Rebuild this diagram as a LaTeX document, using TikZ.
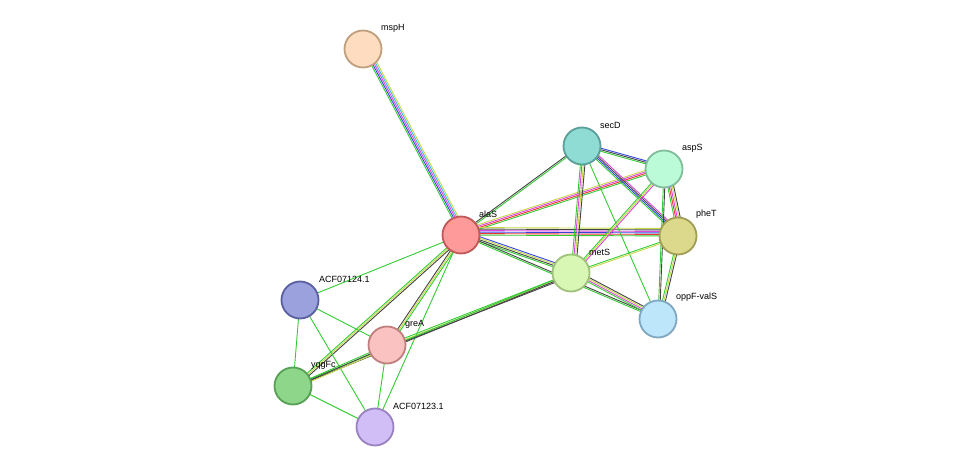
\documentclass[tikz,border=0pt]{standalone}
\usepackage{fontspec}
\setmainfont{Liberation Sans}
\usetikzlibrary{calc}
\definecolor{eg}{HTML}{33CC33}
\definecolor{ey}{HTML}{C8D84A}
\definecolor{ek}{HTML}{444444}
\definecolor{eb}{HTML}{3344DD}
\definecolor{em}{HTML}{DD44DD}
\definecolor{ec}{HTML}{33BBDD}
\definecolor{er}{HTML}{EE3333}
\tikzset{
 prot/.style={circle,minimum size=37pt,inner sep=0pt,line width=1.8pt},
 lab/.style={anchor=west,font=\fontsize{9}{10}\selectfont,inner sep=0pt},
}
\newcommand{\medge}[3]{%
 \foreach \c [count=\i] in {#3}{%
   \pgfmathsetmacro{\off}{(\i-1)*1.5}
   \draw[\c,line width=0.9pt] ($(#1)!\off pt!90:(#2)$) -- ($(#2)!\off pt!-90:(#1)$);
 }}
\begin{document}
\begin{tikzpicture}[x=1pt,y=-1pt]
\useasboundingbox (0,0) rectangle (975,473);
\coordinate (mspH) at (363,49);
\coordinate (alaS) at (461,235);
\coordinate (secD) at (582,146);
\coordinate (aspS) at (664,169);
\coordinate (pheT) at (678,236);
\coordinate (metS) at (571,273);
\coordinate (oppF) at (658,319);
\coordinate (A24) at (300,300);
\coordinate (greA) at (387,345);
\coordinate (yqg) at (293,386);
\coordinate (A23) at (375,427);
\medge{mspH}{alaS}{eg,eb,em,ec,ey}
\medge{alaS}{secD}{eg,ek}
\medge{alaS}{aspS}{eg,er,em,ey}
\medge{alaS}{pheT}{eg,er,eb,em,ek,ey}
\medge{alaS}{metS}{eg,ek,ey,eb}
\medge{alaS}{oppF}{eg,ek}
\medge{alaS}{A24}{eg}
\medge{alaS}{greA}{ek,ey,eg}
\medge{alaS}{yqg}{eg,ey,ek}
\medge{alaS}{A23}{eg}
\medge{secD}{aspS}{eg,ek,eb}
\medge{secD}{pheT}{eg,eb,ek,em}
\medge{secD}{metS}{eg,em,ey,ek}
\medge{secD}{oppF}{eg}
\medge{aspS}{pheT}{eg,er,em,ey,ek}
\medge{aspS}{metS}{eg,ey,em}
\medge{aspS}{oppF}{eg,ek}
\medge{pheT}{metS}{eg,ey}
\medge{pheT}{oppF}{eg,ey,ek}
\medge{metS}{oppF}{eg,em,ey,ek}
\medge{metS}{greA}{eg,ey,ek}
\medge{metS}{yqg}{eg,ek}
\medge{A24}{yqg}{eg}
\medge{A24}{greA}{eg}
\medge{A24}{A23}{eg}
\medge{greA}{yqg}{eg,ek,ey}
\medge{greA}{A23}{eg}
\medge{yqg}{A23}{eg}
\node[prot,fill={rgb,255:red,253;green,220;blue,191},draw={rgb,255:red,192;green,159;blue,127}] (nmspH) at (mspH) {};
\node[prot,fill={rgb,255:red,254;green,154;blue,154},draw={rgb,255:red,192;green,88;blue,88}] (nalaS) at (alaS) {};
\node[prot,fill={rgb,255:red,143;green,220;blue,212},draw={rgb,255:red,90;green,159;blue,153}] (nsecD) at (secD) {};
\node[prot,fill={rgb,255:red,187;green,251;blue,216},draw={rgb,255:red,128;green,189;blue,153}] (naspS) at (aspS) {};
\node[prot,fill={rgb,255:red,220;green,217;blue,141},draw={rgb,255:red,160;green,158;blue,85}] (npheT) at (pheT) {};
\node[prot,fill={rgb,255:red,217;green,247;blue,180},draw={rgb,255:red,160;green,192;blue,126}] (nmetS) at (metS) {};
\node[prot,fill={rgb,255:red,189;green,230;blue,250},draw={rgb,255:red,127;green,168;blue,192}] (noppF) at (oppF) {};
\node[prot,fill={rgb,255:red,154;green,161;blue,221},draw={rgb,255:red,90;green,96;blue,160}] (nA24) at (A24) {};
\node[prot,fill={rgb,255:red,251;green,194;blue,194},draw={rgb,255:red,192;green,127;blue,127}] (ngreA) at (greA) {};
\node[prot,fill={rgb,255:red,142;green,214;blue,138},draw={rgb,255:red,88;green,160;blue,85}] (nyqg) at (yqg) {};
\node[prot,fill={rgb,255:red,210;green,190;blue,247},draw={rgb,255:red,154;green,130;blue,192}] (nA23) at (A23) {};
\node[lab] (lmspH) at (381,28) {mspH};
\node[lab] (lalaS) at (479,214) {alaS};
\node[lab] (lsecD) at (600,125) {secD};
\node[lab] (laspS) at (682,148) {aspS};
\node[lab] (lpheT) at (696,214) {pheT};
\node[lab] (lmetS) at (589,252) {metS};
\node[lab] (loppF) at (676,297) {oppF-valS};
\node[lab] (lA24) at (319,279) {ACF07124.1};
\node[lab] (lgreA) at (405,324) {greA};
\node[lab] (lyqg) at (311,365) {yqgFc};
\node[lab] (lA23) at (393,406) {ACF07123.1};
\end{tikzpicture}
\end{document}
